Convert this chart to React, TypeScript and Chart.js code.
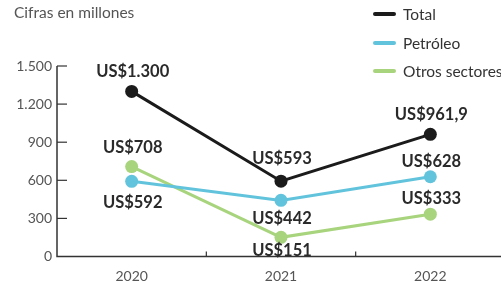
import React, { useEffect, useRef } from 'react';
import { Chart, registerables } from 'chart.js';

Chart.register(...registerables);

const categories = ['2020', '2021', '2022'];
const totalValues = [1300, 593, 961.9];
const petroleoValues = [592, 442, 628];
const otrosValues = [708, 151, 333];
const yTickValues = [0, 300, 600, 900, 1200, 1500];
const seriesNames = ['Total', 'Petróleo', 'Otros sectores'];
const seriesColors = ['#1b1b1b', '#62c3dc', '#a8d47d'];
// label placement relative to point: negative = above, positive = below (px)
const totalLabelOffsets = [-20, -23, -20];
const petroleoLabelOffsets = [21, 18, -15];
const otrosLabelOffsets = [-19, 13, -16];

const FONT = 'Lato, "Open Sans", sans-serif';
const PLOT_RIGHT = 505; // x axis runs past the right edge of the canvas

function fmt(v: number): string {
  const [intPart, dec] = String(v).split('.');
  const withSep = intPart.replace(/\B(?=(\d{3})+(?!\d))/g, '.');
  return dec ? `${withSep},${dec}` : withSep;
}

const extendPlugin = {
  id: 'extendX',
  afterLayout(chart: any) {
    const x = chart.scales.x;
    x.right = PLOT_RIGHT;
    x.width = x.right - x.left;
    chart.chartArea.right = PLOT_RIGHT;
    chart.chartArea.width = PLOT_RIGHT - chart.chartArea.left;
    x.configure();
  },
};

const axesPlugin = {
  id: 'customAxes',
  beforeDatasetsDraw(chart: any) {
    const { ctx, chartArea, scales } = chart;
    const { left, right, top, bottom } = chartArea;
    const x = scales.x;
    const y = scales.y;
    ctx.save();
    ctx.strokeStyle = '#333';
    ctx.lineWidth = 1.5;
    ctx.beginPath();
    ctx.moveTo(left, top);
    ctx.lineTo(left, bottom);
    ctx.lineTo(right, bottom);
    ctx.stroke();
    ctx.lineWidth = 1.2;
    y.ticks.forEach((t: any) => {
      if (t.value === 0) return;
      const py = y.getPixelForValue(t.value);
      ctx.beginPath();
      ctx.moveTo(left, py);
      ctx.lineTo(left + 10, py);
      ctx.stroke();
    });
    for (let i = 1; i < categories.length; i++) {
      const px = (x.getPixelForValue(i - 1) + x.getPixelForValue(i)) / 2;
      ctx.beginPath();
      ctx.moveTo(px, bottom);
      ctx.lineTo(px, bottom - 5);
      ctx.stroke();
    }
    ctx.restore();
  },
};

const labelsPlugin = {
  id: 'valueLabels',
  afterDatasetsDraw(chart: any) {
    const { ctx } = chart;
    ctx.save();
    ctx.font = `bold 16.5px ${FONT}`;
    ctx.fillStyle = '#2a2a2a';
    ctx.textAlign = 'center';
    ctx.textBaseline = 'middle';
    chart.data.datasets.forEach((ds: any, di: number) => {
      const meta = chart.getDatasetMeta(di);
      meta.data.forEach((pt: any, i: number) => {
        const off = ds.labelOffsets[i];
        ctx.fillText('US$' + fmt(ds.data[i]), pt.x + 1, pt.y + off);
      });
    });
    ctx.restore();
  },
};

export default function App() {
  const ref = useRef<HTMLCanvasElement>(null);
  useEffect(() => {
    if (!ref.current) return;
    const mk = (idx: number, data: number[], offs: number[]) => ({
      label: seriesNames[idx],
      data,
      labelOffsets: offs,
      borderColor: seriesColors[idx],
      backgroundColor: seriesColors[idx],
      pointBackgroundColor: seriesColors[idx],
      pointBorderWidth: 0,
      pointRadius: 6.5,
      borderWidth: 3,
      tension: 0,
    });
    const chart = new Chart(ref.current, {
      type: 'line',
      data: {
        labels: categories,
        datasets: [
          mk(1, petroleoValues, petroleoLabelOffsets),
          mk(2, otrosValues, otrosLabelOffsets),
          mk(0, totalValues, totalLabelOffsets),
        ] as any,
      },
      options: {
        animation: false,
        responsive: false,
        layout: { padding: { top: 66, right: 0, left: 0, bottom: 0 } },
        plugins: { legend: { display: false }, tooltip: { enabled: false }, title: { display: false } },
        scales: {
          x: {
            type: 'category',
            offset: true,
            grid: { display: false, drawTicks: false },
            border: { display: false },
            ticks: { color: '#555', font: { family: FONT, size: 14 }, padding: 12 },
            afterFit: (s: any) => { s.height = 25.5; },
          },
          y: {
            min: 0,
            max: 1500,
            grid: { display: false, drawTicks: false },
            border: { display: false },
            afterBuildTicks: (s: any) => { s.ticks = yTickValues.map((v) => ({ value: v })); },
            ticks: {
              color: '#555',
              font: { family: FONT, size: 14 },
              padding: 5,
              callback: (v: any) => fmt(Number(v)),
            },
            afterFit: (s: any) => { s.width = 57; },
          },
        },
      },
      plugins: [extendPlugin, axesPlugin, labelsPlugin],
    });
    return () => chart.destroy();
  }, []);

  const legendItem = (idx: number, top: number) => (
    <div key={idx} style={{ position: 'absolute', left: 373, top: top - 10, height: 20, display: 'flex', alignItems: 'center' }}>
      <div style={{ width: 23, height: 4, borderRadius: 2, background: seriesColors[idx], marginRight: 7 }} />
      <span style={{ fontFamily: FONT, fontSize: 15.5, color: '#333', whiteSpace: 'nowrap' }}>{seriesNames[idx]}</span>
    </div>
  );

  return (
    <div style={{ position: 'absolute', left: 0, top: 0, width: 501, height: 282, overflow: 'hidden', background: '#fff' }}>
      <canvas ref={ref} width={501} height={282} style={{ position: 'absolute', left: 0, top: 0, width: 501, height: 282 }} />
      <div style={{ position: 'absolute', left: 14, top: 3, fontFamily: FONT, fontSize: 15.5, color: '#555', whiteSpace: 'nowrap' }}>
        Cifras en millones
      </div>
      {legendItem(0, 14)}
      {legendItem(1, 43)}
      {legendItem(2, 71)}
    </div>
  );
}
